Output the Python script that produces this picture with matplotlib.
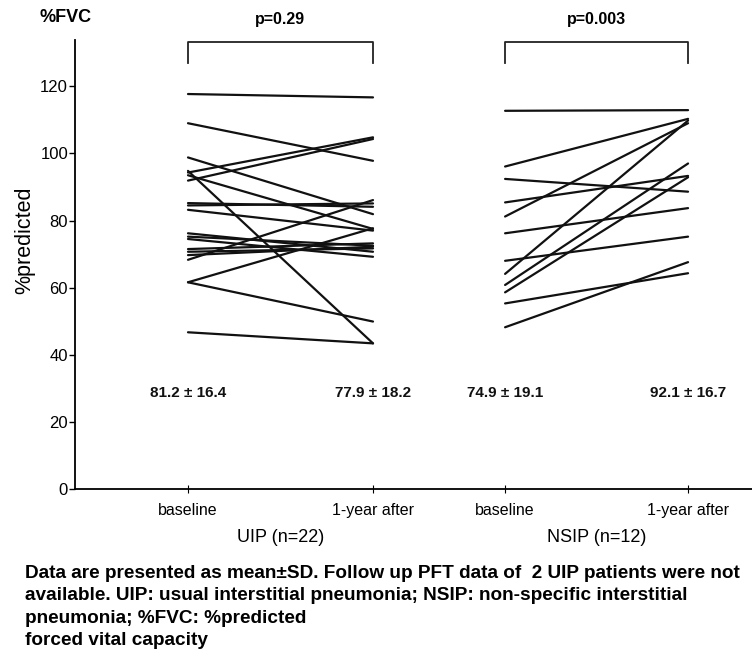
import matplotlib
matplotlib.use("Agg")
import matplotlib.pyplot as plt

plt.rcParams['font.family'] = ['Liberation Sans', 'DejaVu Sans']

# ---- data ----
groups = ["UIP (n=22)", "NSIP (n=12)"]
timepoints = ["baseline", "1-year after"]
y_ticks = [0, 20, 40, 60, 80, 100, 120]

uip_baseline = [117.7, 109.0, 98.8, 94.8, 94.3, 91.9, 93.5, 85.2, 84.5, 83.2,
                76.2, 75.2, 74.5, 71.5, 70.7, 69.7, 68.3, 61.6, 61.6, 46.7]
uip_after = [116.7, 97.8, 81.9, 43.4, 104.8, 104.3, 77.5, 84.1, 85.1, 77.0,
             70.7, 72.5, 69.2, 73.2, 71.7, 72.2, 86.1, 77.7, 49.9, 43.4]

nsip_baseline = [112.7, 96.1, 92.4, 85.4, 81.2, 76.2, 68.0, 64.1, 60.8, 58.6, 55.3, 48.2]
nsip_after = [112.9, 110.3, 88.6, 93.3, 109.0, 83.7, 75.2, 109.8, 97.0, 92.9, 64.3, 67.6]

stats_text = [["81.2 \u00b1 16.4", "77.9 \u00b1 18.2"], ["74.9 \u00b1 19.1", "92.1 \u00b1 16.7"]]
p_values = ["p=0.29", "p=0.003"]

caption = ("Data are presented as mean\u00b1SD. Follow up PFT data of  2 UIP patients were not\n"
           "available. UIP: usual interstitial pneumonia; NSIP: non-specific interstitial\n"
           "pneumonia; %FVC: %predicted\n"
           "forced vital capacity")

# ---- layout ----
W, H = 752, 652
fig = plt.figure(figsize=(W / 100, H / 100), dpi=100)
ax = fig.add_axes([75 / W, 1 - 489 / H, 1 - 75 / W, (489 - 40) / H])

group_x = [[1.0, 2.0], [2.714, 3.703]]
series = [(uip_baseline, uip_after), (nsip_baseline, nsip_after)]

for gi, (b, a) in enumerate(series):
    x0, x1 = group_x[gi]
    for yb, ya in zip(b, a):
        ax.plot([x0, x1], [yb, ya], color="#111111", lw=1.6, solid_capstyle="round")
    for ti in range(2):
        ax.text(group_x[gi][ti], 28.7, stats_text[gi][ti], ha="center", va="center",
                fontsize=11, fontweight="bold", color="#111111")
    ax.plot([x0, x0, x1, x1], [127.0, 133.3, 133.3, 127.0], color="#222222", lw=1.3,
            clip_on=False)
    ax.text((x0 + x1) / 2, 140.0, p_values[gi], ha="center", va="center",
            fontsize=11.5, fontweight="bold", clip_on=False)
    ax.text((x0 + x1) / 2, -14.5, groups[gi], ha="center", va="center",
            fontsize=13, clip_on=False)

ax.set_xlim(1 + (75 - 188) / 185, 1 + (752 - 188) / 185)
ax.set_ylim(0, 133.8)

xt = [group_x[0][0], group_x[0][1], group_x[1][0], group_x[1][1]]
ax.set_xticks(xt)
ax.set_xticklabels(timepoints * 2, fontsize=11.5)
ax.tick_params(axis="x", direction="inout", length=6, width=0.8, pad=7)
ax.set_yticks(y_ticks)
ax.set_yticklabels([str(v) for v in y_ticks], fontsize=12)
ax.tick_params(axis="y", direction="out", length=4, width=1.0, pad=1)

for s in ["top", "right"]:
    ax.spines[s].set_visible(False)
ax.spines["left"].set_linewidth(1.3)
ax.spines["bottom"].set_linewidth(1.3)

ax.set_ylabel("%predicted", fontsize=15.5)
ax.yaxis.set_label_coords(-0.058, 0.555)

fig.text(40 / W, 1 - 18 / H, "%FVC", fontsize=13, fontweight="bold", va="center", ha="left")

fig.text(25 / W, 1 - 565 / H, caption, fontsize=13.7, fontweight="bold", va="top", ha="left",
         linespacing=1.42)

fig.savefig("out.png", dpi=100)
